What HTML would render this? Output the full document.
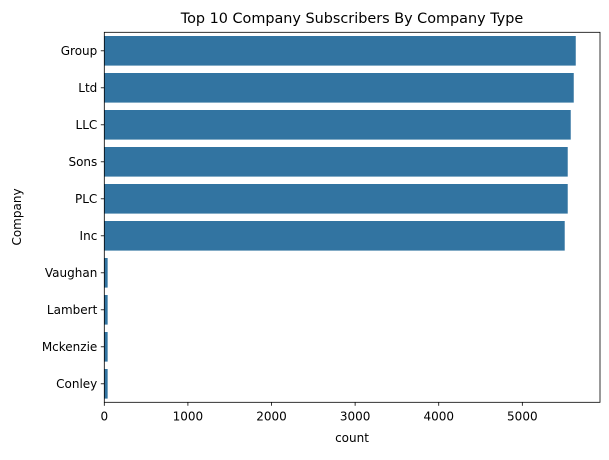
<!DOCTYPE html>
<html><head><meta charset="utf-8"><style>
body{margin:0;background:#fff;}
text{font-family:"DejaVu Sans","Liberation Sans",sans-serif;fill:#000;}
</style></head><body>
<svg width="609" height="455" xmlns="http://www.w3.org/2000/svg">
<text x="352" y="23" font-size="14.4" text-anchor="middle">Top 10 Company Subscribers By Company Type</text>
<g id="bars"></g>
<rect x="104.3" y="32.3" width="495.7" height="370" fill="none" stroke="#000" stroke-width="0.8"/>
<g id="xt"></g>
<g id="yt"></g>
<text x="352" y="442" font-size="12" text-anchor="middle">count</text>
<text transform="translate(21,217) rotate(-90)" font-size="12" text-anchor="middle">Company</text>
</svg>
<script>
const categories=["Group","Ltd","LLC","Sons","PLC","Inc","Vaughan","Lambert","Mckenzie","Conley"];
const counts=[5639,5615,5579,5543,5543,5507,40,40,40,40];
const xTicks=[0,1000,2000,3000,4000,5000];
const NS="http://www.w3.org/2000/svg";
const L=104.3,R=600,T=32.3,B=402.3,XMAX=5929;
const x=v=>L+v/XMAX*(R-L);
const band=(B-T)/categories.length;
const y=i=>T+band*i;
const bars=document.getElementById('bars'),xt=document.getElementById('xt'),yt=document.getElementById('yt');
function mk(t,a,p){const e=document.createElementNS(NS,t);for(const k in a)e.setAttribute(k,a[k]);p.appendChild(e);return e;}
categories.forEach((c,i)=>{
 const r=mk('rect',{x:x(0),y:y(i)+band*0.1,width:x(counts[i])-x(0),height:band*0.8,fill:'#3274a1'},bars);
 
 
 const cy=y(i)+band/2;
 mk('line',{x1:L-3.5,x2:L,y1:cy,y2:cy,stroke:'#000','stroke-width':0.8},yt);
 const t=mk('text',{x:L-7,y:cy+4.2,'font-size':12,'text-anchor':'end'},yt);
 t.textContent=c;
 
 
});
xTicks.forEach(v=>{
 const px=x(v);
 mk('line',{x1:px,x2:px,y1:B,y2:B+3.5,stroke:'#000','stroke-width':0.8},xt);
 const t=mk('text',{x:px,y:B+18,'font-size':12,'text-anchor':'middle'},xt);
 t.textContent=v;
 
 
});
</script>
</body></html>
